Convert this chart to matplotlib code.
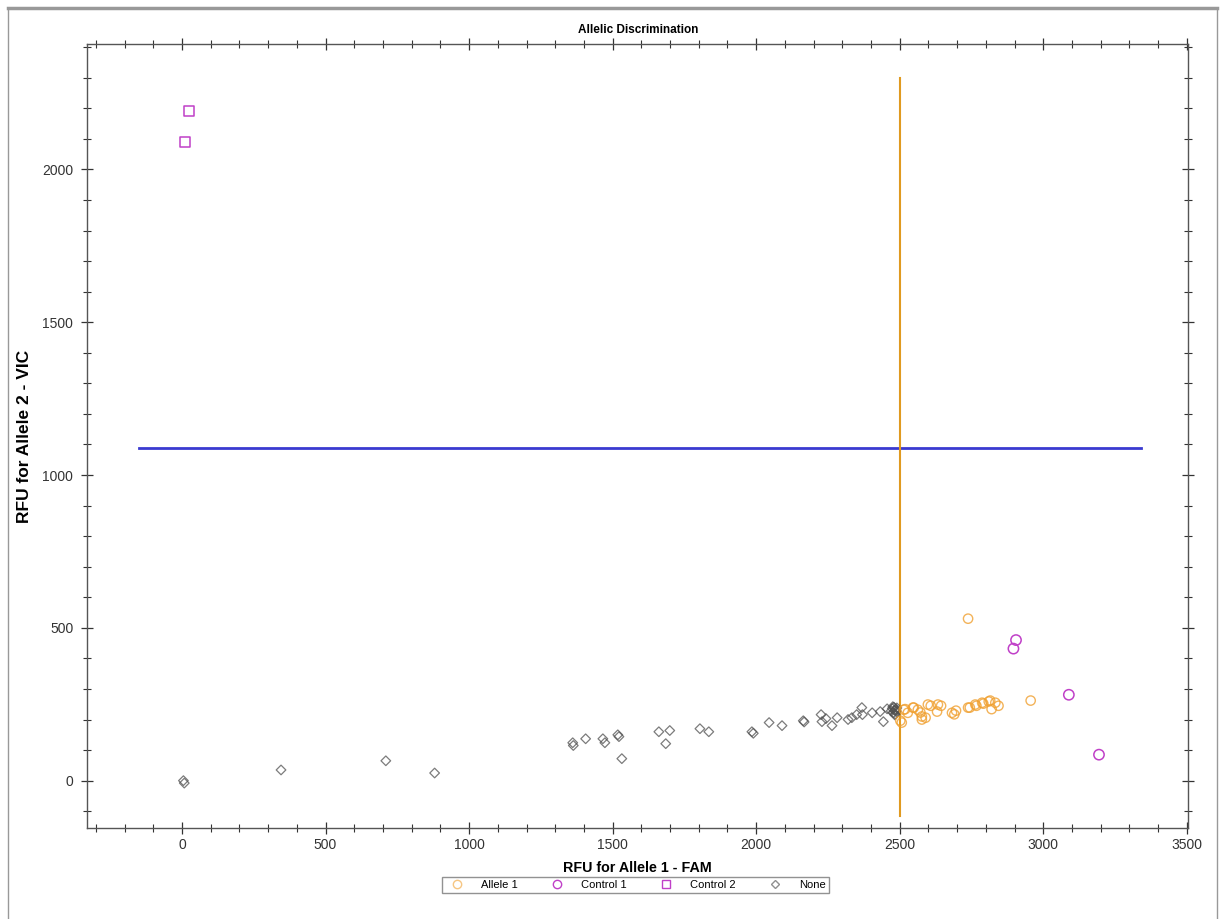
import matplotlib
matplotlib.use("Agg")
import matplotlib.pyplot as plt
from matplotlib.lines import Line2D
from matplotlib.ticker import MultipleLocator

plt.rcParams["font.family"] = ["Liberation Sans", "DejaVu Sans"]

# points
allele1_x = [2738, 2956, 2502, 2507, 2514, 2519, 2528, 2546, 2549, 2563, 2572, 2577, 2577,
             2590, 2598, 2608, 2630, 2633, 2644, 2682, 2690, 2696, 2738, 2744, 2763, 2767,
             2787, 2791, 2810, 2815, 2820, 2833, 2844]
allele1_y = [530, 262, 196, 190, 232, 234, 222, 239, 239, 232, 223, 210, 200,
             206, 249, 245, 226, 249, 245, 222, 217, 229, 239, 239, 249, 245,
             255, 252, 259, 262, 234, 255, 245]

control1_x = [2905, 2896, 3089, 3194]
control1_y = [460, 432, 281, 85]

control2_x = [25, 10]
control2_y = [2190, 2090]

none_x = [5, 8, 345, 710, 880, 1361, 1363, 1406, 1466, 1473, 1518, 1522, 1532, 1661, 1685,
          1699, 1804, 1835, 1985, 1990, 2045, 2090, 2164, 2167, 2226, 2229, 2243, 2264,
          2282, 2320, 2333, 2350, 2368, 2370, 2404, 2432, 2443, 2456,
          2470, 2474, 2478, 2480, 2482, 2484, 2486, 2488, 2490, 2476, 2483, 2487]
none_y = [0, -8, 35, 65, 25, 124, 115, 137, 137, 124, 150, 144, 72, 160, 121,
          164, 170, 160, 160, 155, 190, 180, 196, 192, 216, 193, 203, 180,
          206, 200, 206, 216, 239, 216, 222, 226, 193, 235,
          228, 236, 222, 240, 230, 218, 234, 226, 238, 242, 215, 230]

# threshold lines
vic_thresh = 1090
vic_span = [-150, 3340]
fam_thresh = 2500
fam_span = [-115, 2300]

orange = "#f0a030"
magenta = "#c040c8"
gray = "#505050"

fig = plt.figure(figsize=(12.2, 9.19), dpi=100)
ax = fig.add_axes([0.0715, 0.099, 0.9025, 0.853])

ax.plot(vic_span, [vic_thresh, vic_thresh], color="#3a3ad0", lw=2, zorder=2)
ax.plot([fam_thresh, fam_thresh], fam_span, color="#e09a20", lw=1.5, zorder=2)

ax.scatter(none_x, none_y, marker="D", s=24, facecolors="none", edgecolors=gray,
           linewidths=0.9, alpha=0.75, zorder=3)
ax.scatter(allele1_x, allele1_y, marker="o", s=45, facecolors="none", edgecolors=orange,
           linewidths=1.0, alpha=0.8, zorder=3)
ax.scatter(control1_x, control1_y, marker="o", s=55, facecolors="none", edgecolors=magenta,
           linewidths=1.1, zorder=3)
ax.scatter(control2_x, control2_y, marker="s", s=55, facecolors="none", edgecolors=magenta,
           linewidths=1.1, zorder=3)

ax.set_xlim(-330, 3505)
ax.set_ylim(-155, 2410)
ax.xaxis.set_major_locator(MultipleLocator(500))
ax.xaxis.set_minor_locator(MultipleLocator(100))
ax.yaxis.set_major_locator(MultipleLocator(500))
ax.yaxis.set_minor_locator(MultipleLocator(100))
ax.tick_params(which="both", direction="inout", top=True, right=True, colors="#333333",
               labelsize=10)
ax.tick_params(which="major", length=8, width=0.9)
ax.tick_params(which="minor", length=6, width=0.8)
ax.tick_params(axis="y", pad=6)
for s in ax.spines.values():
    s.set_color("#555555")
    s.set_linewidth(1.0)

ax.set_title("Allelic Discrimination", fontsize=8.5, fontweight="bold", pad=8)
ax.set_xlabel("RFU for Allele 1 - FAM", fontsize=10.3, fontweight="bold", labelpad=6)
ax.set_ylabel("RFU for Allele 2 - VIC", fontsize=12.5, fontweight="bold", labelpad=7)

handles = [
    Line2D([], [], marker="o", ls="none", mfc="none", mec=orange, ms=6, alpha=0.6, label="Allele 1"),
    Line2D([], [], marker="o", ls="none", mfc="none", mec=magenta, ms=6, label="Control 1"),
    Line2D([], [], marker="s", ls="none", mfc="none", mec=magenta, ms=6, label="Control 2"),
    Line2D([], [], marker="D", ls="none", mfc="none", mec="#909090", ms=4.5, label="None"),
]
fig.legend(handles=handles, loc="center", bbox_to_anchor=(0.521, 0.037), ncol=4,
           fontsize=8, frameon=True, fancybox=False, edgecolor="#777777",
           columnspacing=2.5, handletextpad=1.2, borderpad=0.3)

# outer frame of the screenshot
fig.add_artist(Line2D([8 / 1220, 1217 / 1220], [1 - 8 / 919, 1 - 8 / 919],
                      transform=fig.transFigure, color="#999999", lw=2.5))
fig.add_artist(Line2D([8 / 1220, 8 / 1220], [0, 1 - 8 / 919],
                      transform=fig.transFigure, color="#999999", lw=1))
fig.add_artist(Line2D([1217 / 1220, 1217 / 1220], [0, 1 - 8 / 919],
                      transform=fig.transFigure, color="#999999", lw=1))

fig.savefig("out.png", dpi=100)
